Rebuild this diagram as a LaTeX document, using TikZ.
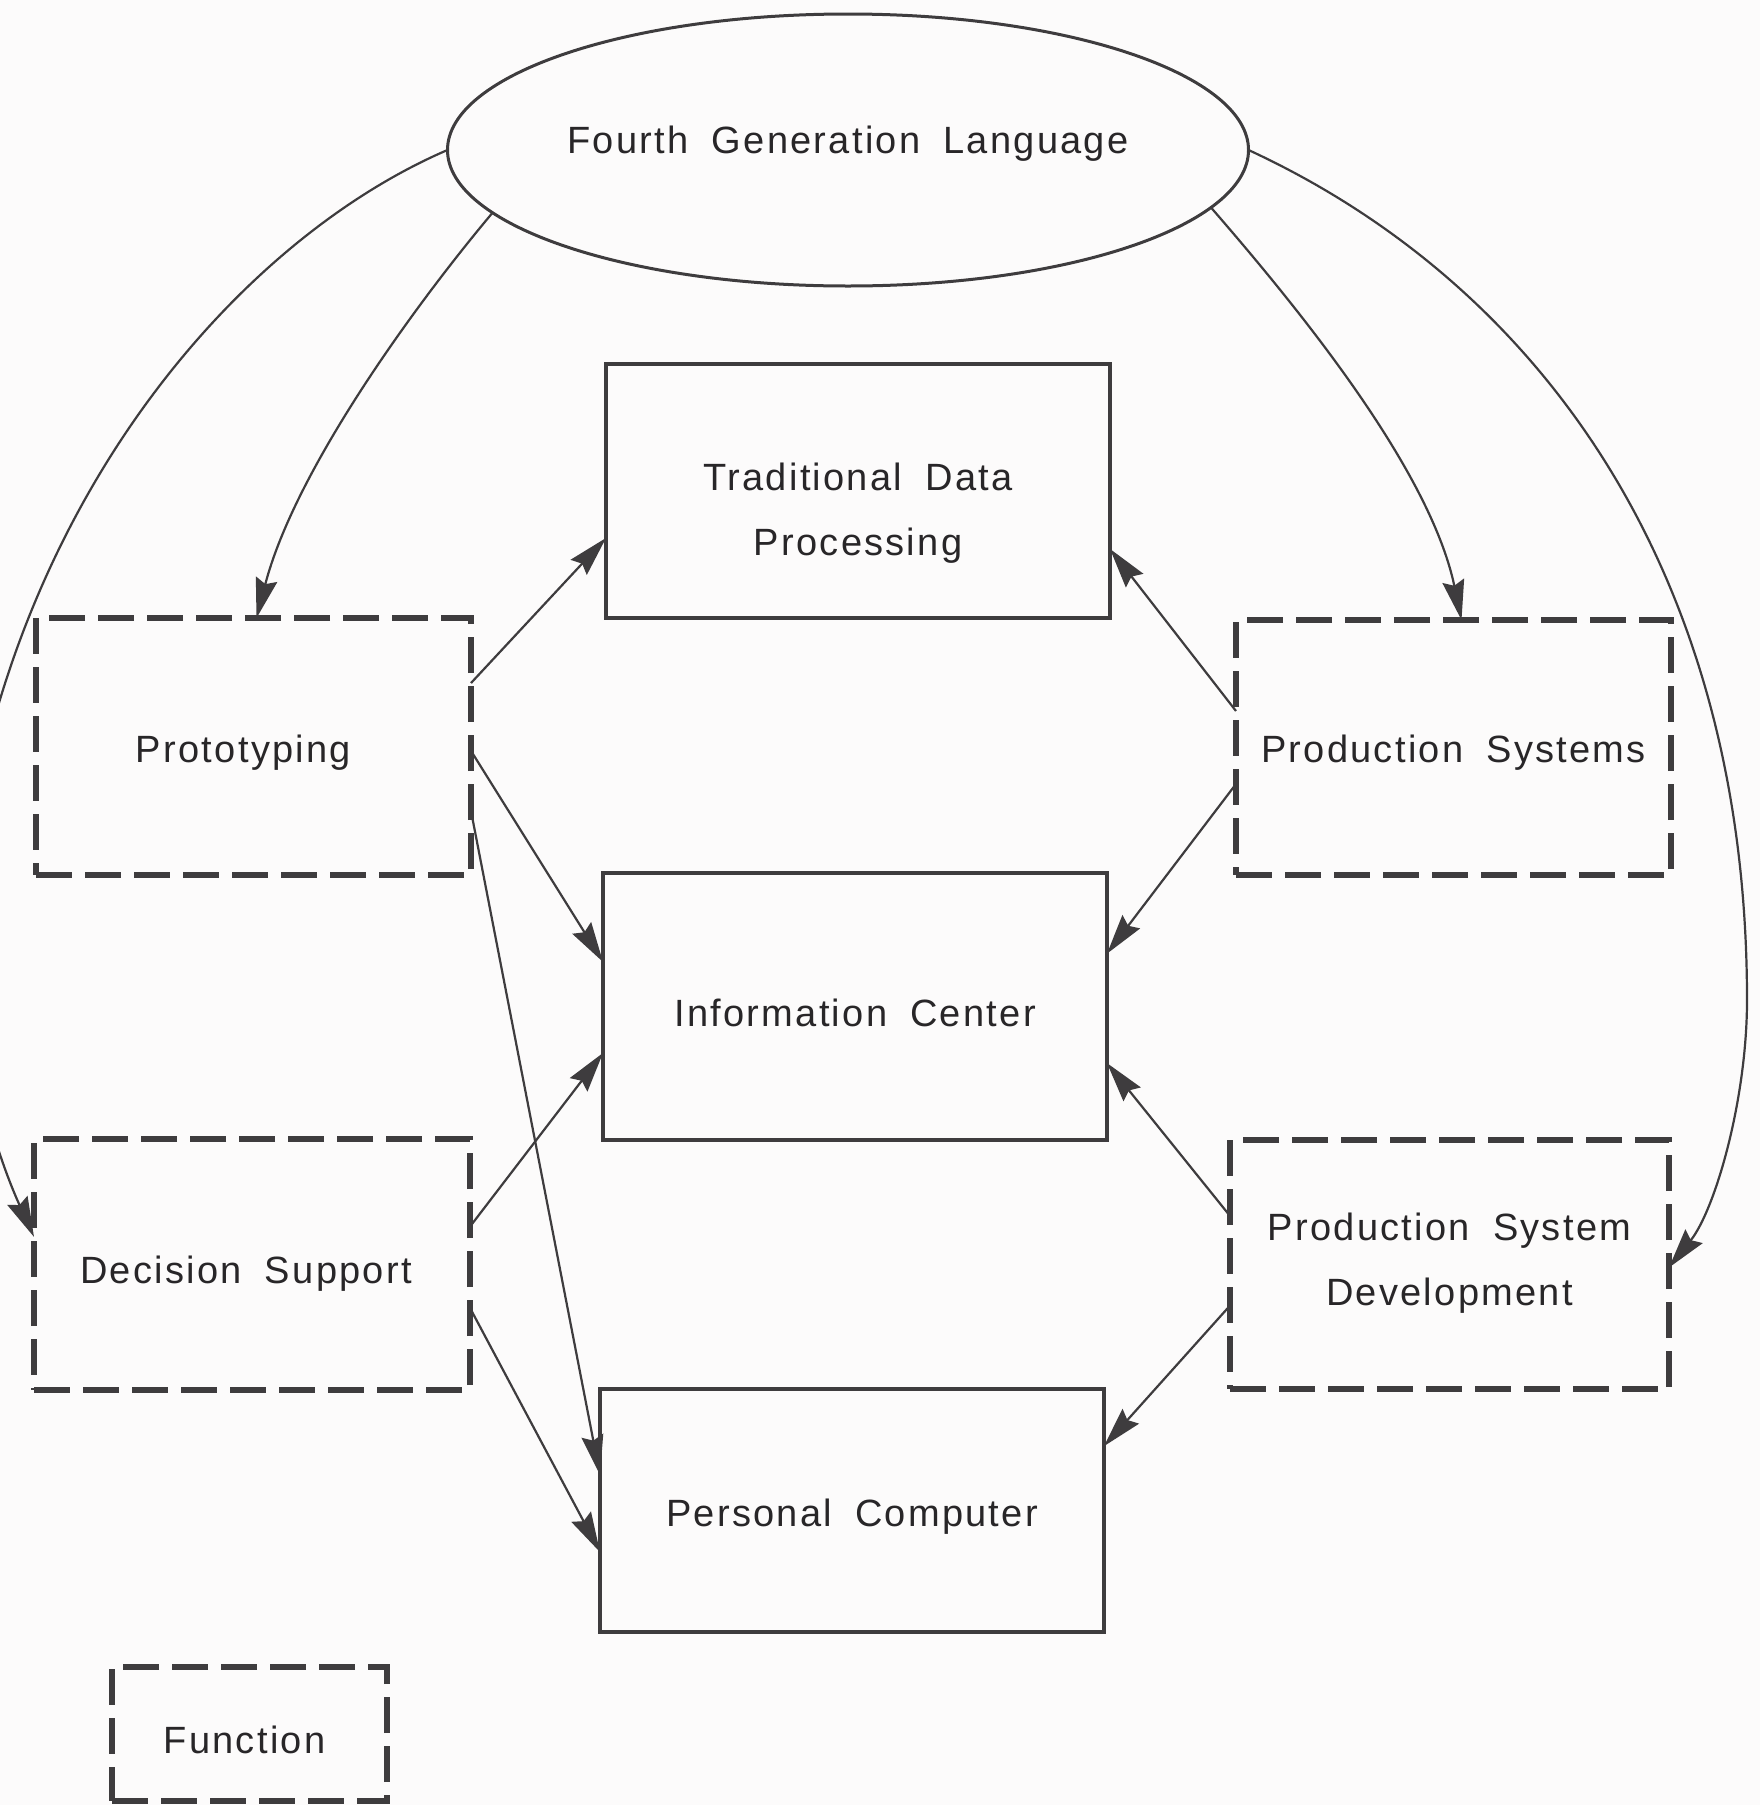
\documentclass[tikz,border=0pt]{standalone}
\usepackage{fontspec}
\setmainfont{Liberation Sans}[LetterSpace=6,WordSpace=1.8]
\usetikzlibrary{shapes.geometric,arrows.meta,calc}
\definecolor{bgc}{RGB}{252,251,251}
\definecolor{linec}{RGB}{62,60,62}
\definecolor{textc}{RGB}{40,38,40}
\tikzset{
  txt/.style={text=textc, align=center, inner sep=0pt, font=\fontsize{38}{65}\selectfont},
  solidbox/.style={draw=linec, line width=3.5pt, rectangle, inner sep=0pt, outer sep=0pt},
  dashbox/.style={draw=linec, line width=5.5pt, dash pattern=on 36pt off 13pt, rectangle,
    inner sep=0pt, outer sep=0pt},
  conn/.style={draw=linec, line width=2.2pt, -{Stealth[length=40pt,width=22pt,inset=5pt]}},
}
\begin{document}
\begin{tikzpicture}[x=1pt,y=-1pt]
\fill[bgc] (0,0) rectangle (1760,1805);
\useasboundingbox (0,0) rectangle (1760,1805);

\node[ellipse, draw=linec, line width=3pt, inner sep=0pt, outer sep=0pt,
  minimum width=801pt, minimum height=272pt,
  label={[txt, yshift=6pt]center:Fourth Generation Language}] (fgl) at (848,150) {};

\node[solidbox, minimum width=504pt, minimum height=254pt,
  label={[txt, yshift=-22pt]center:{Traditional Data\\Processing}}] (tdp) at (858,491) {};
\node[solidbox, minimum width=504pt, minimum height=267pt,
  label={[txt, yshift=-6pt]center:Information Center}] (ic) at (855,1006.5) {};
\node[solidbox, minimum width=504pt, minimum height=243pt,
  label={[txt, yshift=-6pt]center:Personal Computer}] (pc) at (852,1510.5) {};

\node[dashbox, minimum width=435pt, minimum height=257pt,
  label={[txt, yshift=-6pt, xshift=-10pt]center:Prototyping}] (proto) at (253.5,746.5) {};
\node[dashbox, minimum width=435pt, minimum height=255pt,
  label={[txt, yshift=-5pt]center:Production Systems}] (ps) at (1453.5,747.5) {};
\node[dashbox, minimum width=436pt, minimum height=251pt,
  label={[txt, yshift=-9pt, xshift=-6pt]center:Decision Support}] (ds) at (252,1264.5) {};
\node[dashbox, minimum width=439pt, minimum height=249pt,
  label={[txt, yshift=1pt]center:{Production System\\Development}}] (psd) at (1449.5,1264.5) {};
\node[dashbox, minimum width=275pt, minimum height=134pt,
  label={[txt, yshift=-6pt, xshift=-5pt]center:Function}] (fn) at (249.5,1734) {};

% curves from the ellipse
\draw[conn] (fgl.190) .. controls (415,305) and (295,470) .. ([xshift=3pt]proto.north);
\draw[conn] (fgl.351) .. controls (1300,310) and (1430,470) .. ([xshift=8pt]ps.north);
\draw[conn] (fgl.west) .. controls (250,235) and (40,470) .. (-25,800)
  .. controls (-60,980) and (-10,1140) .. ($(ds.north west)!0.39!(ds.south west)$);
\draw[conn] (fgl.east) .. controls (1530,280) and (1747,560) .. (1747,1000)
  .. controls (1747,1100) and (1715,1210) .. ([yshift=-3pt]psd.east);

% straight connectors
\draw[conn] ($(proto.north east)!0.253!(proto.south east)$) -- ($(tdp.north west)!0.685!(tdp.south west)$);
\draw[conn] ($(proto.north east)!0.517!(proto.south east)$) -- ($(ic.north west)!0.333!(ic.south west)$);
\draw[conn] ($(proto.north east)!0.751!(proto.south east)$) -- ($(pc.north west)!0.354!(pc.south west)$);
\draw[conn] ($(ds.north east)!0.349!(ds.south east)$) -- ($(ic.north west)!0.674!(ic.south west)$);
\draw[conn] ($(ds.north east)!0.673!(ds.south east)$) -- ($(pc.north west)!0.671!(pc.south west)$);
\draw[conn] ($(ps.north west)!0.357!(ps.south west)$) -- ($(tdp.north east)!0.728!(tdp.south east)$);
\draw[conn] ($(ps.north west)!0.643!(ps.south west)$) -- ($(ic.north east)!0.302!(ic.south east)$);
\draw[conn] ($(psd.north west)!0.305!(psd.south west)$) -- ($(ic.north east)!0.712!(ic.south east)$);
\draw[conn] ($(psd.north west)!0.665!(psd.south west)$) -- ($(pc.north east)!0.235!(pc.south east)$);
\end{tikzpicture}
\end{document}
